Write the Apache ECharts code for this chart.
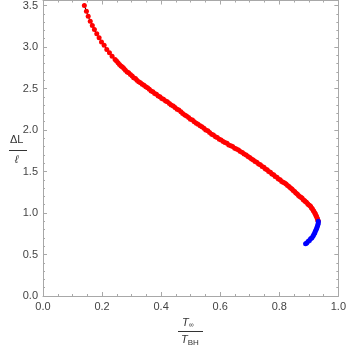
<!DOCTYPE html>
<html>
<head>
<meta charset="utf-8">
<script src="https://cdn.jsdelivr.net/npm/echarts@6/dist/echarts.min.js"></script>
<style>
  html, body { margin: 0; padding: 0; background: #fff; }
  #chartDiv { width: 349px; height: 352px; }
</style>
</head>
<body>
<div id="chartDiv"></div>
<script>
// red branch
var redX = [0.140, 0.147, 0.153, 0.160, 0.167, 0.174, 0.182, 0.190, 0.198, 0.207,
            0.216, 0.225, 0.234, 0.244, 0.249, 0.254, 0.259, 0.264, 0.269, 0.274,
            0.279, 0.285, 0.290, 0.296, 0.302, 0.307, 0.313, 0.318, 0.324, 0.330,
            0.336, 0.342, 0.348, 0.354, 0.360, 0.366, 0.372, 0.378, 0.384, 0.390,
            0.396, 0.402, 0.408, 0.415, 0.421, 0.428, 0.434, 0.441, 0.447, 0.454,
            0.460, 0.467, 0.473, 0.480, 0.486, 0.493, 0.499, 0.506, 0.512, 0.519,
            0.525, 0.532, 0.538, 0.545, 0.551, 0.558, 0.564, 0.571, 0.577, 0.584,
            0.590, 0.597, 0.603, 0.610, 0.616, 0.623, 0.629, 0.636, 0.642, 0.649,
            0.655, 0.662, 0.668, 0.675, 0.681, 0.688, 0.694, 0.700, 0.706, 0.712,
            0.718, 0.724, 0.730, 0.736, 0.742, 0.748, 0.753, 0.759, 0.764, 0.770,
            0.775, 0.781, 0.786, 0.792, 0.797, 0.803, 0.808, 0.813, 0.818, 0.823,
            0.828, 0.833, 0.838, 0.843, 0.847, 0.852, 0.856, 0.861, 0.865, 0.869,
            0.873, 0.877, 0.881, 0.885, 0.888, 0.892, 0.896, 0.899, 0.903, 0.906,
            0.909, 0.912, 0.915, 0.917, 0.920, 0.922, 0.924, 0.926, 0.928, 0.929,
            0.931, 0.932];
var redY = [3.50, 3.43, 3.37, 3.31, 3.26, 3.21, 3.16, 3.11, 3.06, 3.02,
            2.97, 2.93, 2.89, 2.85, 2.83, 2.81, 2.79, 2.77, 2.76, 2.74,
            2.72, 2.70, 2.69, 2.67, 2.65, 2.63, 2.62, 2.60, 2.58, 2.57,
            2.55, 2.54, 2.52, 2.51, 2.49, 2.47, 2.46, 2.44, 2.43, 2.41,
            2.40, 2.38, 2.37, 2.35, 2.34, 2.32, 2.30, 2.29, 2.27, 2.25,
            2.24, 2.22, 2.20, 2.18, 2.17, 2.15, 2.13, 2.12, 2.10, 2.08,
            2.07, 2.05, 2.04, 2.02, 2.00, 1.99, 1.97, 1.95, 1.94, 1.92,
            1.91, 1.89, 1.88, 1.86, 1.85, 1.84, 1.82, 1.81, 1.80, 1.78,
            1.77, 1.76, 1.74, 1.73, 1.71, 1.70, 1.68, 1.67, 1.65, 1.64,
            1.62, 1.61, 1.59, 1.58, 1.56, 1.55, 1.53, 1.52, 1.50, 1.49,
            1.47, 1.46, 1.44, 1.43, 1.41, 1.40, 1.38, 1.37, 1.36, 1.35,
            1.33, 1.32, 1.30, 1.29, 1.27, 1.26, 1.24, 1.23, 1.21, 1.20,
            1.19, 1.18, 1.16, 1.15, 1.14, 1.13, 1.11, 1.10, 1.09, 1.08,
            1.06, 1.05, 1.03, 1.02, 1.00, 0.99, 0.97, 0.96, 0.94, 0.93,
            0.91, 0.90];
// blue branch
var blueX = [0.932, 0.932, 0.931, 0.929, 0.927, 0.925, 0.922, 0.920, 0.917, 0.914,
             0.910, 0.906, 0.902, 0.898, 0.893, 0.889];
var blueY = [0.90, 0.88, 0.86, 0.84, 0.82, 0.80, 0.78, 0.76, 0.74, 0.72,
             0.70, 0.69, 0.67, 0.66, 0.64, 0.63];

var xTicks = [0, 1, 0.2];      // min, max, interval
var yTicks = [0, 3.56, 0.5];

function pairs(xs, ys) {
  var out = [];
  for (var i = 0; i < xs.length; i++) out.push([xs[i], ys[i]]);
  return out;
}

var frameColor = '#a8a8a8';
var labelColor = '#444';
var font = '"Liberation Sans", Arial, sans-serif';

function xAxisCfg(pos, labels) {
  return {
    type: 'value', position: pos,
    min: xTicks[0], max: xTicks[1], interval: xTicks[2],
    axisLine: { show: true, onZero: false, lineStyle: { color: frameColor, width: 1 } },
    axisTick: { show: true, inside: true, length: 4, lineStyle: { color: frameColor } },
    minorTick: { show: true, splitNumber: 4, length: 2, lineStyle: { color: frameColor } },
    splitLine: { show: false },
    axisLabel: { show: labels, color: labelColor, fontSize: 11, fontFamily: font, margin: 5,
      formatter: function (v) { return v.toFixed(1); } }
  };
}
function yAxisCfg(pos, step, len, labels, line) {
  return {
    type: 'value', position: pos,
    min: yTicks[0], max: yTicks[1], interval: step,
    axisLine: { show: line, onZero: false, lineStyle: { color: frameColor, width: 1 } },
    axisTick: { show: true, inside: true, length: len, lineStyle: { color: frameColor } },
    splitLine: { show: false },
    axisLabel: { show: labels, color: labelColor, fontSize: 11, fontFamily: font, margin: 5,
      showMaxLabel: false,
      formatter: function (v) { return v.toFixed(1); } }
  };
}

var myChart = echarts.init(document.getElementById('chartDiv'), null, { renderer: 'canvas' });
var option = {
  animation: false,
  grid: { left: 43, right: 9, top: 0, bottom: 56 },
  xAxis: [xAxisCfg('bottom', true), xAxisCfg('top', false)],
  yAxis: [
    yAxisCfg('left', yTicks[2], 4, true, true),
    yAxisCfg('left', 0.1, 2, false, false),
    yAxisCfg('right', yTicks[2], 4, false, true),
    yAxisCfg('right', 0.1, 2, false, false)
  ],
  series: [
    {
      type: 'line', data: pairs(redX, redY),
      symbol: 'circle', symbolSize: 5, showAllSymbol: true,
      lineStyle: { color: '#000', width: 1 },
      itemStyle: { color: '#ff0000' }
    },
    {
      type: 'line', data: pairs(blueX, blueY),
      symbol: 'circle', symbolSize: 5, showAllSymbol: true,
      lineStyle: { color: '#000', width: 1 },
      itemStyle: { color: '#0000ff' }
    }
  ],
  graphic: [
    // y axis name: ΔL / ℓ
    { type: 'text', left: 10, top: 134, style: { text: 'ΔL', fill: '#333', font: '11px ' + font } },
    { type: 'line', shape: { x1: 9, y1: 150.5, x2: 27, y2: 150.5 }, style: { stroke: '#333', lineWidth: 1 } },
    { type: 'text', left: 15, top: 154, style: { text: 'ℓ', fill: '#333', font: 'italic 11px ' + font } },
    // x axis name: T∞ / TBH
    { type: 'text', left: 182, top: 317, style: {
        text: '{t|T}{s|∞}', fill: '#333',
        rich: { t: { font: 'italic 11px ' + font, fill: '#333' },
                s: { font: '7px ' + font, fill: '#333', padding: [6, 0, 0, 0] } } } },
    { type: 'line', shape: { x1: 178, y1: 331.5, x2: 203, y2: 331.5 }, style: { stroke: '#333', lineWidth: 1 } },
    { type: 'text', left: 181, top: 334, style: {
        text: '{t|T}{s|BH}', fill: '#333',
        rich: { t: { font: 'italic 11px ' + font, fill: '#333' },
                s: { font: '8px ' + font, fill: '#333', padding: [6, 0, 0, 0] } } } }
  ]
};
myChart.setOption(option);
</script>
</body>
</html>
